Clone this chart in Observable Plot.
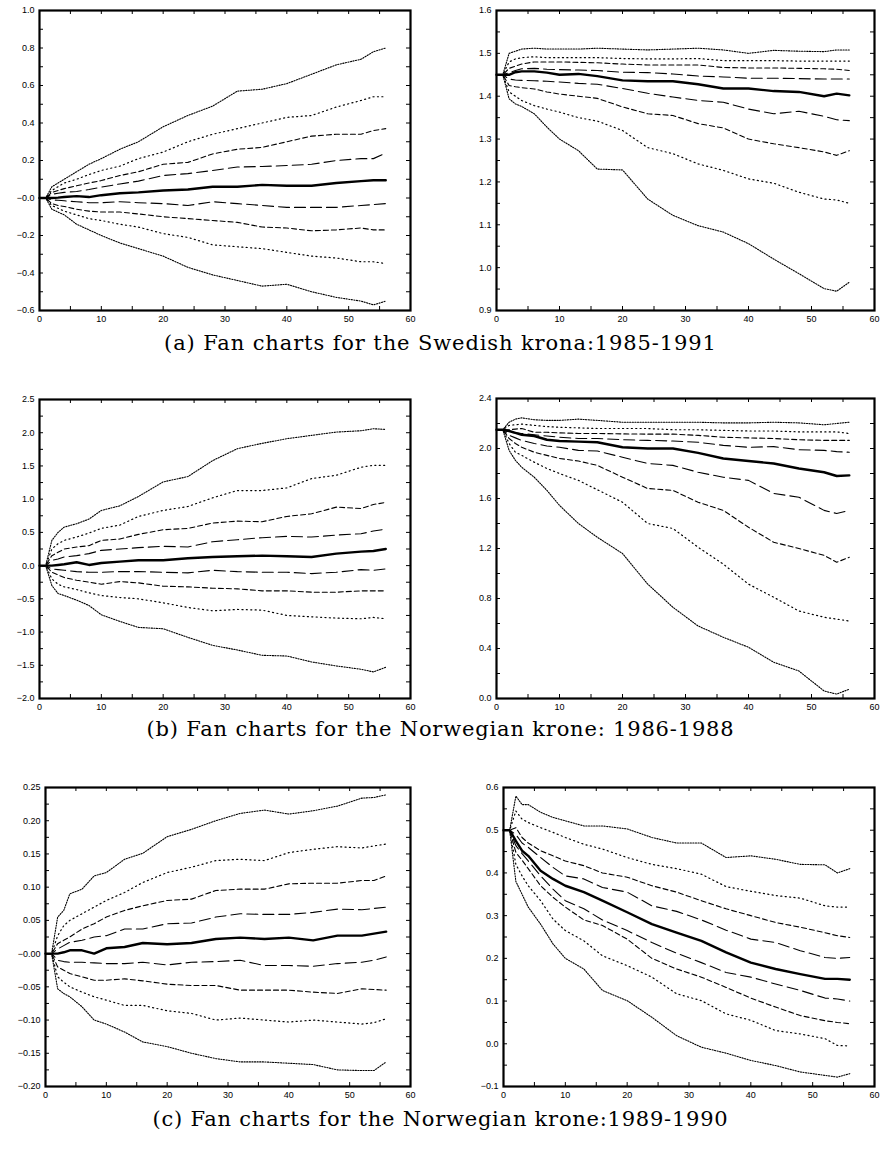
<!DOCTYPE html>
<html><head><meta charset="utf-8">
<script src="https://cdn.jsdelivr.net/npm/d3@7"></script>
<script src="https://cdn.jsdelivr.net/npm/@observablehq/plot@0.6"></script>
<style>
body{margin:0;background:#fff;}
#root{position:relative;width:881px;height:1155px;overflow:hidden;background:#fff;}
.panel{position:absolute;}
.cap{position:absolute;left:0;width:881px;text-align:center;font-family:"DejaVu Serif","Liberation Serif",serif;font-size:21px;white-space:nowrap;line-height:1;color:#000;}
.cap span{display:inline-block;}
</style></head><body><div id="root"></div>
<script>
// horizon steps (x values) shared by every fan line
const steps = [0,1,2,3,4,6,8,10,13,16,20,24,28,32,36,40,44,48,52,54,56];

// x axis ticks
const xLabels = [0,10,20,30,40,50,60];
const xMinor = [0,5,10,15,20,25,30,35,40,45,50,55,60];

// nine fan lines per panel, ordered from top outer band to bottom outer band (index 4 = median)
const kronaA_left = [
 [0,0,0.06,0.08,0.10,0.14,0.18,0.21,0.26,0.30,0.38,0.44,0.49,0.57,0.58,0.61,0.66,0.71,0.74,0.78,0.80],
 [0,0,0.04,0.06,0.08,0.10,0.125,0.147,0.17,0.21,0.245,0.30,0.34,0.37,0.40,0.43,0.44,0.485,0.52,0.54,0.54],
 [0,0,0.03,0.04,0.05,0.065,0.08,0.093,0.12,0.14,0.18,0.19,0.235,0.26,0.27,0.30,0.33,0.34,0.34,0.36,0.37],
 [0,0,0.02,0.025,0.03,0.035,0.045,0.058,0.075,0.09,0.12,0.13,0.147,0.165,0.168,0.173,0.18,0.20,0.21,0.21,0.24],
 [0,0,0,0.002,0.005,0.01,0.005,0.015,0.025,0.03,0.04,0.045,0.06,0.06,0.07,0.065,0.065,0.08,0.09,0.095,0.095],
 [0,0,-0.01,-0.012,-0.015,-0.02,-0.025,-0.025,-0.02,-0.025,-0.03,-0.04,-0.02,-0.03,-0.04,-0.05,-0.05,-0.05,-0.04,-0.035,-0.03],
 [0,0,-0.03,-0.04,-0.045,-0.06,-0.07,-0.075,-0.075,-0.085,-0.10,-0.11,-0.12,-0.13,-0.155,-0.16,-0.175,-0.17,-0.16,-0.17,-0.17],
 [0,0,-0.04,-0.055,-0.07,-0.09,-0.11,-0.12,-0.14,-0.155,-0.19,-0.21,-0.25,-0.26,-0.27,-0.29,-0.31,-0.32,-0.34,-0.34,-0.35],
 [0,0,-0.06,-0.075,-0.09,-0.14,-0.17,-0.20,-0.24,-0.27,-0.31,-0.37,-0.41,-0.44,-0.47,-0.46,-0.50,-0.53,-0.55,-0.57,-0.55]
];
const kronaA_right = [
 [1.45,1.45,1.50,1.505,1.51,1.512,1.51,1.51,1.51,1.512,1.51,1.508,1.51,1.512,1.508,1.50,1.507,1.505,1.504,1.508,1.508],
 [1.45,1.45,1.48,1.487,1.49,1.492,1.49,1.49,1.49,1.49,1.488,1.487,1.487,1.488,1.483,1.483,1.483,1.482,1.482,1.482,1.482],
 [1.45,1.45,1.465,1.47,1.475,1.48,1.48,1.48,1.479,1.478,1.475,1.473,1.473,1.473,1.467,1.466,1.466,1.465,1.464,1.463,1.46],
 [1.45,1.45,1.455,1.46,1.464,1.465,1.463,1.462,1.461,1.46,1.456,1.455,1.452,1.447,1.445,1.442,1.442,1.441,1.44,1.44,1.44],
 [1.45,1.45,1.45,1.456,1.458,1.458,1.455,1.45,1.452,1.447,1.437,1.435,1.435,1.428,1.418,1.418,1.412,1.41,1.40,1.406,1.402],
 [1.45,1.45,1.44,1.438,1.437,1.436,1.435,1.433,1.43,1.428,1.418,1.407,1.398,1.39,1.386,1.37,1.359,1.365,1.353,1.345,1.343],
 [1.45,1.45,1.425,1.422,1.42,1.417,1.41,1.405,1.40,1.395,1.375,1.359,1.355,1.336,1.326,1.30,1.289,1.28,1.27,1.262,1.273],
 [1.45,1.45,1.41,1.40,1.39,1.378,1.37,1.363,1.35,1.342,1.32,1.28,1.266,1.242,1.227,1.207,1.197,1.176,1.16,1.158,1.15],
 [1.45,1.45,1.394,1.382,1.376,1.359,1.328,1.30,1.273,1.23,1.228,1.16,1.122,1.098,1.083,1.056,1.02,0.986,0.951,0.945,0.966]
];
const kroneB_left = [
 [0,0,0.38,0.5,0.58,0.63,0.7,0.83,0.9,1.04,1.26,1.34,1.58,1.76,1.84,1.91,1.96,2.01,2.03,2.06,2.05],
 [0,0,0.25,0.33,0.38,0.43,0.49,0.56,0.61,0.74,0.83,0.89,1.02,1.13,1.13,1.17,1.31,1.36,1.48,1.51,1.51],
 [0,0,0.15,0.2,0.25,0.28,0.3,0.38,0.4,0.47,0.54,0.56,0.64,0.67,0.66,0.74,0.78,0.88,0.86,0.92,0.95],
 [0,0,0.08,0.1,0.13,0.15,0.18,0.23,0.25,0.27,0.29,0.28,0.36,0.39,0.42,0.44,0.43,0.46,0.48,0.52,0.55],
 [0,0,0,0.01,0.02,0.05,0.01,0.04,0.06,0.08,0.08,0.11,0.13,0.14,0.15,0.14,0.13,0.18,0.21,0.22,0.25],
 [0,0,-0.05,-0.06,-0.07,-0.09,-0.1,-0.1,-0.09,-0.09,-0.1,-0.11,-0.07,-0.09,-0.1,-0.1,-0.12,-0.1,-0.06,-0.07,-0.05],
 [0,0,-0.1,-0.14,-0.18,-0.22,-0.25,-0.28,-0.24,-0.26,-0.31,-0.32,-0.34,-0.35,-0.38,-0.38,-0.4,-0.4,-0.38,-0.38,-0.38],
 [0,0,-0.2,-0.28,-0.32,-0.36,-0.41,-0.45,-0.48,-0.5,-0.56,-0.63,-0.68,-0.66,-0.67,-0.75,-0.77,-0.79,-0.8,-0.78,-0.8],
 [0,0,-0.3,-0.42,-0.45,-0.52,-0.6,-0.74,-0.84,-0.93,-0.95,-1.08,-1.2,-1.27,-1.35,-1.36,-1.45,-1.51,-1.56,-1.6,-1.53]
];
const kroneB_right = [
 [2.15,2.15,2.21,2.235,2.245,2.23,2.225,2.225,2.235,2.225,2.21,2.21,2.21,2.21,2.205,2.205,2.21,2.205,2.19,2.2,2.21],
 [2.15,2.15,2.185,2.19,2.195,2.185,2.175,2.17,2.165,2.16,2.16,2.16,2.15,2.15,2.145,2.14,2.14,2.133,2.133,2.133,2.12],
 [2.15,2.15,2.15,2.155,2.16,2.13,2.13,2.125,2.12,2.12,2.117,2.115,2.115,2.105,2.09,2.085,2.08,2.07,2.065,2.065,2.065],
 [2.15,2.15,2.13,2.125,2.12,2.11,2.10,2.09,2.08,2.08,2.07,2.065,2.06,2.05,2.025,2.01,2.015,1.99,1.985,1.975,1.97],
 [2.15,2.15,2.14,2.125,2.11,2.10,2.07,2.06,2.055,2.05,2.01,2.0,2.0,1.965,1.92,1.90,1.88,1.84,1.81,1.78,1.785],
 [2.15,2.15,2.105,2.085,2.065,2.04,2.02,2.01,1.985,1.98,1.93,1.88,1.865,1.81,1.77,1.745,1.64,1.61,1.505,1.48,1.505],
 [2.15,2.15,2.08,2.04,2.01,1.97,1.945,1.92,1.90,1.865,1.77,1.68,1.665,1.57,1.505,1.37,1.25,1.20,1.145,1.09,1.13],
 [2.15,2.15,2.04,1.97,1.945,1.89,1.84,1.80,1.745,1.67,1.57,1.40,1.36,1.21,1.075,0.915,0.81,0.70,0.65,0.635,0.62],
 [2.15,2.15,1.985,1.905,1.85,1.77,1.665,1.545,1.40,1.29,1.16,0.915,0.73,0.58,0.49,0.41,0.29,0.22,0.06,0.035,0.075]
];
const kroneC_left = [
 [0,0,0.055,0.065,0.09,0.097,0.117,0.122,0.142,0.151,0.176,0.187,0.2,0.211,0.216,0.21,0.215,0.222,0.234,0.235,0.239],
 [0,0,0.027,0.042,0.05,0.06,0.07,0.08,0.092,0.107,0.122,0.13,0.14,0.142,0.14,0.152,0.157,0.161,0.159,0.162,0.165],
 [0,0,0.015,0.02,0.025,0.037,0.045,0.055,0.065,0.072,0.08,0.082,0.095,0.097,0.097,0.105,0.106,0.106,0.11,0.11,0.117],
 [0,0,0.007,0.012,0.017,0.02,0.025,0.027,0.037,0.037,0.045,0.046,0.055,0.06,0.059,0.059,0.062,0.067,0.066,0.068,0.07],
 [0,0,0,0.002,0.005,0.005,0,0.008,0.01,0.016,0.014,0.016,0.022,0.024,0.022,0.024,0.02,0.027,0.027,0.03,0.033],
 [0,0,-0.01,-0.012,-0.013,-0.013,-0.014,-0.015,-0.015,-0.013,-0.017,-0.013,-0.012,-0.01,-0.018,-0.018,-0.019,-0.015,-0.013,-0.01,-0.005],
 [0,0,-0.02,-0.025,-0.03,-0.035,-0.04,-0.04,-0.038,-0.041,-0.046,-0.048,-0.048,-0.055,-0.055,-0.055,-0.058,-0.06,-0.053,-0.054,-0.055],
 [0,0,-0.035,-0.043,-0.05,-0.058,-0.065,-0.07,-0.078,-0.078,-0.086,-0.09,-0.1,-0.097,-0.1,-0.103,-0.1,-0.103,-0.106,-0.104,-0.098],
 [0,0,-0.053,-0.06,-0.065,-0.08,-0.1,-0.106,-0.118,-0.133,-0.14,-0.15,-0.158,-0.163,-0.163,-0.165,-0.167,-0.175,-0.176,-0.176,-0.163]
];
const kroneC_right = [
 [0.5,0.5,0.58,0.56,0.56,0.542,0.53,0.522,0.51,0.51,0.503,0.483,0.47,0.47,0.436,0.44,0.432,0.42,0.419,0.40,0.41],
 [0.5,0.5,0.545,0.526,0.518,0.506,0.495,0.483,0.467,0.456,0.436,0.42,0.41,0.397,0.368,0.357,0.347,0.341,0.323,0.32,0.32],
 [0.5,0.5,0.506,0.483,0.47,0.452,0.44,0.428,0.417,0.40,0.39,0.37,0.355,0.335,0.316,0.30,0.284,0.273,0.26,0.253,0.249],
 [0.5,0.5,0.49,0.47,0.46,0.436,0.413,0.393,0.386,0.366,0.355,0.323,0.31,0.29,0.266,0.245,0.237,0.218,0.202,0.2,0.202],
 [0.5,0.5,0.475,0.452,0.44,0.405,0.386,0.37,0.355,0.335,0.308,0.28,0.26,0.241,0.214,0.19,0.175,0.163,0.152,0.152,0.15],
 [0.5,0.5,0.464,0.445,0.428,0.393,0.362,0.335,0.316,0.29,0.265,0.237,0.212,0.19,0.167,0.156,0.14,0.125,0.107,0.105,0.1],
 [0.5,0.5,0.448,0.43,0.41,0.37,0.343,0.32,0.29,0.277,0.245,0.2,0.175,0.156,0.132,0.107,0.086,0.066,0.054,0.05,0.047],
 [0.5,0.5,0.42,0.393,0.37,0.335,0.292,0.265,0.241,0.206,0.183,0.156,0.117,0.101,0.07,0.055,0.031,0.023,0.012,-0.004,-0.005],
 [0.5,0.5,0.38,0.35,0.32,0.28,0.234,0.2,0.175,0.125,0.101,0.062,0.019,-0.008,-0.022,-0.039,-0.051,-0.066,-0.074,-0.078,-0.07]
];

// y axis labels per panel
const yLabelsA_left = [-0.6,-0.4,-0.2,0,0.2,0.4,0.6,0.8,1.0];
const yLabelsA_right = [0.9,1.0,1.1,1.2,1.3,1.4,1.5,1.6];
const yLabelsB_left = [-2.0,-1.5,-1.0,-0.5,0,0.5,1.0,1.5,2.0,2.5];
const yLabelsB_right = [0,0.4,0.8,1.2,1.6,2.0,2.4];
const yLabelsC_left = [-0.20,-0.15,-0.10,-0.05,0,0.05,0.10,0.15,0.20,0.25];
const yLabelsC_right = [-0.1,0,0.1,0.2,0.3,0.4,0.5,0.6];

const captions = [
 "(a) Fan charts for the Swedish krona:1985-1991",
 "(b) Fan charts for the Norwegian krone: 1986-1988",
 "(c) Fan charts for the Norwegian krone:1989-1990"
];

// ---- styling / layout (not data) ----
const lineStyles = [
 {dash:"1.2,1.4", w:1.1},
 {dash:"1.1,3.3", w:1.2},
 {dash:"5,3", w:1.1},
 {dash:"11,5", w:1.1},
 {dash:null, w:2.4},
 {dash:"11,5", w:1.1},
 {dash:"5,3", w:1.1},
 {dash:"1.1,3.3", w:1.2},
 {dash:"1.2,1.4", w:1.1}
];

const layout = [
 {series:kronaA_left, labels:yLabelsA_left, step:0.1, dec:1, negZero:true,  left:0,   top:0,   w:440, h:330, ml:39, mr:30, mt:10, mb:20},
 {series:kronaA_right,labels:yLabelsA_right,step:0.05,dec:1, negZero:false, left:440, top:0,   w:441, h:330, ml:56, mr:7,  mt:10, mb:20},
 {series:kroneB_left, labels:yLabelsB_left, step:0.25,dec:1, negZero:false, left:0,   top:380, w:440, h:338, ml:39, mr:30, mt:19, mb:20},
 {series:kroneB_right,labels:yLabelsB_right,step:0.2, dec:1, negZero:false, left:440, top:380, w:441, h:338, ml:56, mr:7,  mt:18, mb:20},
 {series:kroneC_left, labels:yLabelsC_left, step:0.025,dec:2,negZero:true,  left:0,   top:760, w:440, h:346, ml:45, mr:30, mt:27, mb:20},
 {series:kroneC_right,labels:yLabelsC_right,step:0.05,dec:1, negZero:false, left:440, top:760, w:441, h:346, ml:63, mr:7,  mt:27, mb:20}
];

const root = document.getElementById("root");

function fmt(dec, negZero) {
  return d => {
    const a = Math.abs(d).toFixed(dec);
    if (d < -1e-9 || (negZero && Math.abs(d) < 1e-9)) return "\u2212" + a;
    return a;
  };
}

layout.forEach(p => {
  const innerH = p.h - p.mt - p.mb;
  const innerW = p.w - p.ml - p.mr;
  const lo = p.labels[0], hi = p.labels[p.labels.length - 1];
  const n = Math.round((hi - lo) / p.step);
  const yMinor = d3.range(n + 1).map(i => lo + i * p.step);
  const marks = [];
  p.series.forEach((vals, i) => {
    if (i === 4) return;
    const st = lineStyles[i];
    marks.push(Plot.line(steps.map((x, j) => ({x, y: vals[j]})),
      {x: "x", y: "y", stroke: "#000", strokeWidth: st.w, strokeDasharray: st.dash}));
  });
  marks.push(Plot.line(steps.map((x, j) => ({x, y: p.series[4][j]})),
    {x: "x", y: "y", stroke: "#000", strokeWidth: lineStyles[4].w, strokeLinejoin: "round"}));
  const tl = 4;
  marks.push(
    Plot.ruleX(xMinor, {x: d => d, insetTop: innerH - tl, stroke: "#000", strokeWidth: 1}),
    Plot.ruleX(xMinor, {x: d => d, insetBottom: innerH - tl, stroke: "#000", strokeWidth: 1}),
    Plot.ruleY(yMinor, {y: d => d, insetRight: innerW - tl, stroke: "#000", strokeWidth: 1}),
    Plot.ruleY(yMinor, {y: d => d, insetLeft: innerW - tl, stroke: "#000", strokeWidth: 1}),
    Plot.axisX({ticks: xLabels, tickSize: 0, tickPadding: 5, label: null, tickFormat: d => String(d)}),
    Plot.axisY({ticks: p.labels, tickSize: 0, tickPadding: 5, label: null, tickFormat: fmt(p.dec, p.negZero)}),
    Plot.frame({stroke: "#000", strokeWidth: 2.2})
  );
  const chart = Plot.plot({
    width: p.w, height: p.h,
    marginLeft: p.ml, marginRight: p.mr, marginTop: p.mt, marginBottom: p.mb,
    x: {domain: [0, 60], label: null},
    y: {domain: [lo, hi], label: null},
    style: {fontFamily: "'Liberation Sans', Arial, sans-serif", fontSize: "9px", color: "#000", background: "transparent", overflow: "visible"},
    marks
  });
  const div = document.createElement("div");
  div.className = "panel";
  div.style.left = p.left + "px";
  div.style.top = p.top + "px";
  div.appendChild(chart);
  root.appendChild(div);
});

const capPos = [{top: 333, width: 552}, {top: 719, width: 587}, {top: 1109, width: 575}];
captions.forEach((t, i) => {
  const d = document.createElement("div");
  d.className = "cap";
  d.style.top = capPos[i].top + "px";
  const s = document.createElement("span");
  s.textContent = t;
  d.appendChild(s);
  root.appendChild(d);
  const w = s.getBoundingClientRect().width;
  const ls = (capPos[i].width - w) / (t.length - 1);
  s.style.letterSpacing = ls.toFixed(2) + "px";
});
</script>
</body></html>
